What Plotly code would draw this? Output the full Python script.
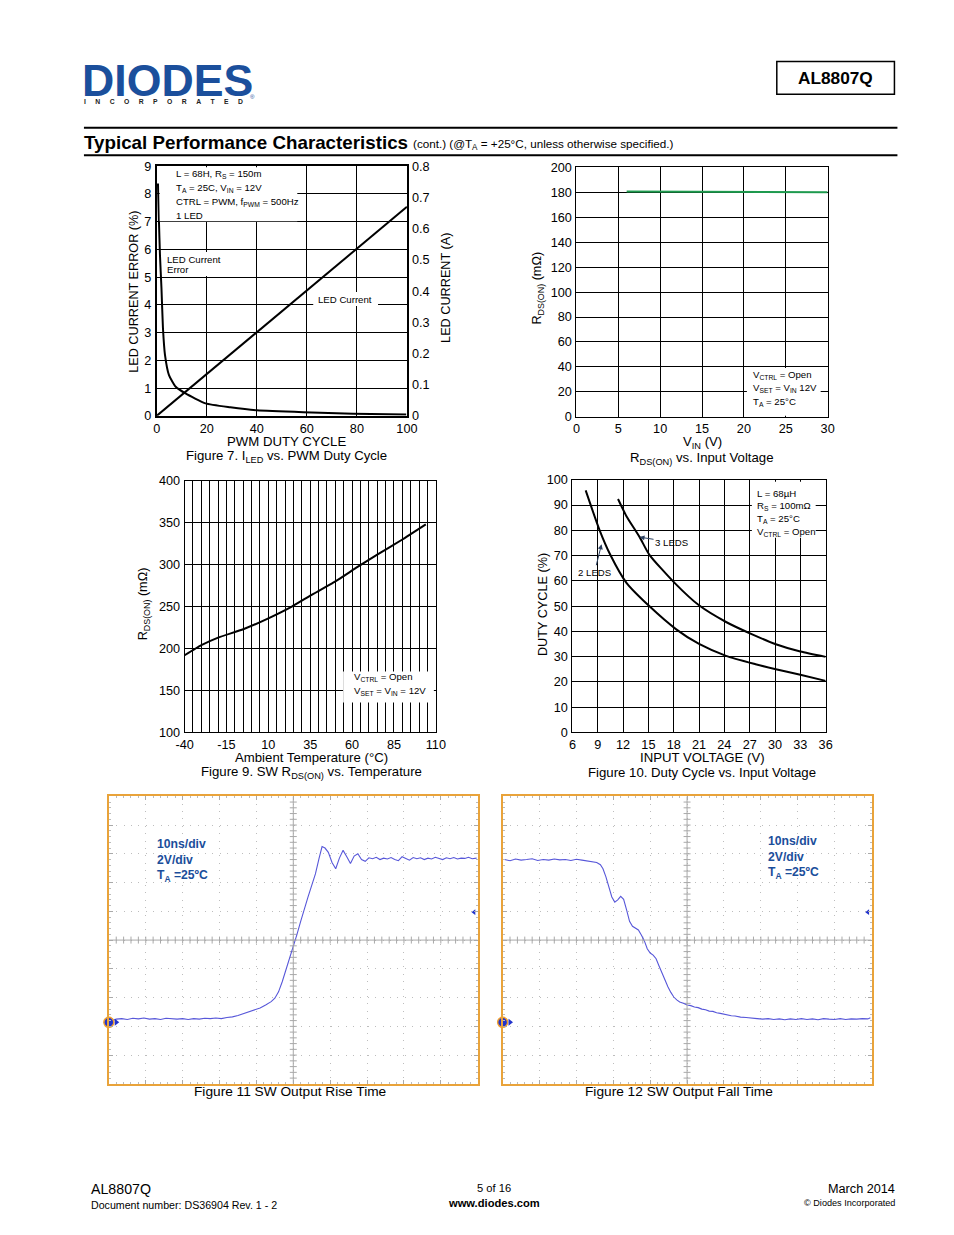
import numpy as np
import plotly.graph_objects as go

PAGE_W, PAGE_H = 954, 1235
MARGIN = 8                     # default body margin of the html page
W, H = PAGE_W - 2 * MARGIN, PAGE_H - 2 * MARGIN - 1
# observed mapping page px -> picture px
SX, CX = 0.9817, 8.0
SY, CY = 0.990, 6.6
FS = 1.015                     # font compensation for the slight downscale
FONT = "Liberation Sans, Arial, sans-serif"
NARROW = "Liberation Sans Narrow, Liberation Sans, Arial, sans-serif"


def X(t):
    return ((t - CX) / SX - MARGIN) / W


def Y(t):
    return 1 - ((t - CY) / SY - MARGIN) / H


# ---------------- data ----------------
# Figure 7: LED current error / LED current vs PWM duty cycle
f7_err_duty = [0.5, 0.9, 1.3, 1.9, 2.5, 3.3, 4.9, 7.6, 11.5, 19.5, 29.4, 40, 58.6, 78.5, 99.7]
f7_err_pct = [8.38, 7.0, 5.8, 4.6, 3.15, 2.2, 1.47, 1.05, 0.81, 0.45, 0.31, 0.2, 0.13, 0.08, 0.05]
f7_cur_duty = [0, 100]
f7_cur_amp = [0.0, 0.67]

# Figure 8: RDS(ON) vs input voltage
f8_vin = [6, 10, 15, 20, 25, 30]
f8_rds = [180.6, 180.5, 180.3, 180.1, 180.0, 179.9]

# Figure 9: SW RDS(ON) vs temperature
f9_temp = [-40, -30, -20, -5, 10, 24, 35, 50, 63, 75, 90, 104]
f9_rds = [192, 204, 213, 223, 236, 250, 263, 280, 297, 312, 330, 348]
f9_xticks = [-40, -15, 10, 35, 60, 85, 110]
f9_xtick_text = ["-40", "-15", "10", "35", "60", "85", "110"]

# Figure 10: duty cycle vs input voltage
f10_vin_2led = [7.57, 9.19, 10.5, 12.4, 15.1, 18.3, 21.0, 24.2, 27.7, 30.1, 33.0, 36.0]
f10_duty_2led = [95.8, 80.3, 70.2, 59.2, 50.0, 40.8, 35.0, 30.3, 27.0, 25.0, 22.8, 20.4]
f10_vin_3led = [11.4, 12.4, 13.95, 15.1, 18.1, 21.0, 24.2, 27.3, 30.1, 33.0, 36.0]
f10_duty_3led = [92.4, 85.6, 77.4, 70.4, 59.2, 50.3, 43.7, 38.8, 34.9, 32.0, 29.9]

# Figure 11: SW output rise (scope divisions: time, volts)
rise_t = [0.05, 0.2, 0.35, 0.5, 0.65, 0.8, 0.95, 1.1, 1.25, 1.4,
          1.55, 1.7, 1.85, 2.0, 2.15, 2.3, 2.45, 2.6, 2.75, 2.9,
          3.05, 3.2, 3.35, 3.5, 3.65, 3.8, 3.95, 4.1, 4.25, 4.4,
          4.5, 4.6, 4.7, 4.8, 4.9, 5.0, 5.1, 5.2, 5.3, 5.4,
          5.5, 5.6, 5.7, 5.78, 5.86, 5.95, 6.05, 6.15, 6.25, 6.35,
          6.45, 6.55, 6.65, 6.75, 6.85, 6.95, 7.05, 7.15, 7.25, 7.35,
          7.45, 7.55, 7.65, 7.75, 7.85, 7.95, 8.05, 8.15, 8.25, 8.35,
          8.45, 8.55, 8.65, 8.75, 8.85, 8.95, 9.05, 9.15, 9.25, 9.35,
          9.45, 9.55, 9.65, 9.75, 9.85, 9.97]
rise_v = [2.18, 2.25, 2.27, 2.24, 2.28, 2.26, 2.29, 2.25, 2.27, 2.24,
          2.28, 2.26, 2.25, 2.27, 2.24, 2.27, 2.25, 2.28, 2.27, 2.29,
          2.27, 2.31, 2.33, 2.38, 2.44, 2.50, 2.56, 2.64, 2.74, 2.86,
          2.98, 3.20, 3.55, 3.95, 4.35, 4.75, 5.20, 5.65, 6.10, 6.50,
          6.90, 7.30, 7.85, 8.25, 8.20, 8.05, 7.70, 7.48, 7.85, 8.12,
          7.90, 7.66, 7.92, 8.00, 7.80, 7.74, 7.86, 7.83, 7.88, 7.80,
          7.85, 7.82, 7.87, 7.80, 7.76, 7.90, 7.84, 7.78, 7.87, 7.83,
          7.86, 7.80, 7.85, 7.82, 7.88, 7.84, 7.80, 7.86, 7.83, 7.87,
          7.82, 7.85, 7.84, 7.88, 7.83, 7.85]

# Figure 12: SW output fall
fall_t = [0.05, 0.2, 0.35, 0.5, 0.65, 0.8, 0.95, 1.1, 1.25, 1.4,
          1.55, 1.7, 1.85, 2.0, 2.15, 2.3, 2.45, 2.55, 2.65, 2.72,
          2.8, 2.88, 2.96, 3.04, 3.12, 3.2, 3.28, 3.36, 3.44, 3.52,
          3.6, 3.68, 3.76, 3.84, 3.92, 4.0, 4.08, 4.16, 4.24, 4.32,
          4.4, 4.48, 4.56, 4.64, 4.72, 4.8, 4.9, 5.0, 5.1, 5.2,
          5.3, 5.4, 5.5, 5.6, 5.7, 5.8, 5.9, 6.0, 6.1, 6.2,
          6.3, 6.45, 6.6, 6.75, 6.9, 7.05, 7.2, 7.35, 7.5, 7.65,
          7.8, 7.95, 8.1, 8.25, 8.4, 8.55, 8.7, 8.85, 9.0, 9.15,
          9.3, 9.45, 9.6, 9.75, 9.9, 9.97]
fall_v = [7.80, 7.76, 7.82, 7.78, 7.80, 7.83, 7.77, 7.80, 7.78, 7.82,
          7.79, 7.80, 7.77, 7.81, 7.78, 7.75, 7.72, 7.70, 7.62, 7.48,
          7.20, 6.80, 6.50, 6.32, 6.40, 6.52, 6.42, 6.05, 5.65, 5.48,
          5.42, 5.35, 5.18, 4.98, 4.70, 4.55, 4.48, 4.35, 4.10, 3.85,
          3.60, 3.38, 3.18, 3.02, 2.92, 2.85, 2.80, 2.74, 2.72, 2.67,
          2.65, 2.60, 2.58, 2.53, 2.52, 2.47, 2.45, 2.42, 2.41, 2.37,
          2.36, 2.32, 2.31, 2.28, 2.27, 2.25, 2.27, 2.24, 2.26, 2.23,
          2.26, 2.24, 2.27, 2.24, 2.26, 2.23, 2.27, 2.25, 2.24, 2.27,
          2.24, 2.26, 2.25, 2.27, 2.26, 2.30]

# scope indicator positions (divisions)
ground_level = 2.14
trigger_level = 5.97
rise_trigger_t = 5.27
fall_trigger_t = 3.4

# ---------------- figure ----------------
fig = go.Figure()

BLK = dict(color="black", width=2)
fig.add_trace(go.Scatter(x=f7_err_duty, y=f7_err_pct, xaxis="x", yaxis="y", mode="lines",
                         line=dict(color="black", width=2, shape="spline", smoothing=0.5)))
fig.add_trace(go.Scatter(x=f7_cur_duty, y=f7_cur_amp, xaxis="x", yaxis="y2", mode="lines", line=BLK))
fig.add_trace(go.Scatter(x=f8_vin, y=f8_rds, xaxis="x2", yaxis="y3", mode="lines",
                         line=dict(color="#1e9a4e", width=2)))
fig.add_trace(go.Scatter(x=f9_temp, y=f9_rds, xaxis="x3", yaxis="y4", mode="lines",
                         line=dict(color="black", width=2, shape="spline", smoothing=0.4)))
fig.add_trace(go.Scatter(x=f10_vin_2led, y=f10_duty_2led, xaxis="x4", yaxis="y5", mode="lines",
                         line=dict(color="black", width=2, shape="spline", smoothing=0.6)))
fig.add_trace(go.Scatter(x=f10_vin_3led, y=f10_duty_3led, xaxis="x4", yaxis="y5", mode="lines",
                         line=dict(color="black", width=2, shape="spline", smoothing=0.6)))

WAVE = "#5757d9"
GRAT = "#a9a9a9"
tick_pos = np.arange(0.2, 10.0, 0.2)
for xa, ya, tt, vv, trig in (("x5", "y6", rise_t, rise_v, rise_trigger_t),
                             ("x6", "y7", fall_t, fall_v, fall_trigger_t)):
    fig.add_trace(go.Scatter(x=tick_pos, y=[5] * len(tick_pos), xaxis=xa, yaxis=ya, mode="markers",
                             marker=dict(symbol="line-ns", size=5, line=dict(width=1, color=GRAT)),
                             hoverinfo="skip"))
    fig.add_trace(go.Scatter(x=[5] * len(tick_pos), y=tick_pos, xaxis=xa, yaxis=ya, mode="markers",
                             marker=dict(symbol="line-ew", size=5, line=dict(width=1, color=GRAT)),
                             hoverinfo="skip"))
    fig.add_trace(go.Scatter(x=tt, y=vv, xaxis=xa, yaxis=ya, mode="lines",
                             line=dict(color=WAVE, width=1.1)))
    fig.add_trace(go.Scatter(x=[0], y=[ground_level], xaxis=xa, yaxis=ya, mode="markers", cliponaxis=False,
                             marker=dict(symbol="circle", size=10, color="#2233cc",
                                         line=dict(color="#f0a030", width=1.5))))
    fig.add_trace(go.Scatter(x=[0.2], y=[ground_level], xaxis=xa, yaxis=ya, mode="markers", cliponaxis=False,
                             marker=dict(symbol="triangle-right", size=6, color="#2233cc")))
    fig.add_trace(go.Scatter(x=[9.9], y=[trigger_level], xaxis=xa, yaxis=ya, mode="markers", cliponaxis=False,
                             marker=dict(symbol="triangle-left", size=5, color="#2233cc")))
    fig.add_trace(go.Scatter(x=[trig], y=[10.05], xaxis=xa, yaxis=ya, mode="markers", cliponaxis=False,
                             marker=dict(symbol="triangle-down", size=7, color="#f08a20")))

TF = dict(family=FONT, size=12.5 * FS, color="black")
chart = dict(showline=True, mirror=True, linecolor="black", linewidth=1.5, showgrid=True,
             gridcolor="black", gridwidth=1.2, zeroline=False, ticks="", ticklen=0, tickfont=TF,
             fixedrange=True)
chart_thin = dict(chart, linewidth=1, gridwidth=1)
XS = dict(ticklabelstandoff=0)
YS = dict(ticklabelstandoff=1)
scope = dict(range=[0, 10], dtick=1, tick0=0, showgrid=True, gridcolor="#bdbdbd", griddash="1px,6.4px",
             gridwidth=1, showticklabels=False, showline=True, linecolor="#e9a33a", linewidth=2,
             mirror="allticks", ticks="inside", ticklen=4, tickcolor=GRAT,
             minor=dict(dtick=0.2, ticks="inside", ticklen=2, tickcolor="#bbbbbb"),
             zeroline=False, fixedrange=True)

fig.update_layout(
    width=W, height=H, margin=dict(l=0, r=0, t=0, b=0), paper_bgcolor="white", plot_bgcolor="white",
    showlegend=False, font=dict(family=FONT, color="black"),
    xaxis=dict(chart, **XS, domain=[X(156), X(407)], range=[0, 100], dtick=20, anchor="y"),
    yaxis=dict(chart, **YS, domain=[Y(416), Y(166)], range=[0, 9], dtick=1, anchor="x"),
    yaxis2=dict(overlaying="y", side="right", anchor="x", range=[0, 0.8], dtick=0.1, showgrid=False,
                showline=False, zeroline=False, ticks="", ticklen=0, tickfont=TF, fixedrange=True,
                ticklabelstandoff=4),
    xaxis2=dict(chart_thin, **XS, domain=[X(577), X(829)], range=[0, 30], dtick=5, anchor="y3"),
    yaxis3=dict(chart_thin, **YS, domain=[Y(417), Y(167)], range=[0, 200], dtick=20, anchor="x2"),
    xaxis3=dict(chart_thin, **XS, domain=[X(184), X(436)], range=[-40, 110], tickmode="array",
                tickvals=f9_xticks, ticktext=f9_xtick_text, anchor="y4",
                minor=dict(tickmode="linear", tick0=-40, dtick=5, showgrid=True, gridcolor="black",
                           gridwidth=1)),
    yaxis4=dict(chart_thin, **YS, domain=[Y(733), Y(481)], range=[100, 400], dtick=50, anchor="x3"),
    xaxis4=dict(chart_thin, **XS, domain=[X(573), X(827)], range=[6, 36], dtick=3, anchor="y5"),
    yaxis5=dict(chart_thin, **YS, domain=[Y(733), Y(480)], range=[0, 100], dtick=10, anchor="x4"),
    xaxis5=dict(scope, domain=[X(108), X(478)], anchor="y6"),
    yaxis6=dict(scope, domain=[Y(1085), Y(797)], anchor="x5"),
    xaxis6=dict(scope, domain=[X(503), X(873)], anchor="y7"),
    yaxis7=dict(scope, domain=[Y(1085), Y(797)], anchor="x6"),
)

shapes = []


def rect(x0, y0, x1, y1, fill="white"):
    shapes.append(dict(type="rect", xref="paper", yref="paper", x0=X(x0), x1=X(x1), y0=Y(y1), y1=Y(y0),
                       fillcolor=fill, line=dict(width=0, color=fill), layer="above"))


def hline(x0, x1, y, w=2, color="black"):
    shapes.append(dict(type="line", xref="paper", yref="paper", x0=X(x0), x1=X(x1), y0=Y(y), y1=Y(y),
                       line=dict(color=color, width=w)))


hline(83, 899, 127.5)
hline(83, 899, 155)
shapes.append(dict(type="rect", xref="paper", yref="paper", x0=X(778), x1=X(896), y0=Y(94), y1=Y(61),
                   line=dict(color="black", width=1.5), fillcolor="rgba(0,0,0,0)"))
rect(159, 167, 297, 221)   # fig 7 conditions
rect(164, 252, 221, 276)   # fig 7 LED current error
rect(313, 292, 378, 306)   # fig 7 LED current
rect(748, 368, 822, 416)   # fig 8 conditions
rect(343, 672, 434, 703)   # fig 9 conditions
rect(753, 482, 817, 538)   # fig 10 conditions
for xa, ya in (("x5", "y6"), ("x6", "y7")):
    shapes.append(dict(type="line", xref=xa, yref=ya, x0=5, x1=5, y0=0, y1=10, line=dict(color=GRAT, width=1)))
    shapes.append(dict(type="line", xref=xa, yref=ya, x0=0, x1=10, y0=5, y1=5, line=dict(color=GRAT, width=1)))

anns = []


def A(x, y, text, size=12.5, xa="center", ya="middle", bold=False, color="black", family=FONT, angle=0):
    if bold:
        text = "<b>" + text + "</b>"
    anns.append(dict(xref="paper", yref="paper", x=X(x), y=Y(y), text=text, showarrow=False,
                     xanchor=xa, yanchor=ya, textangle=angle, borderpad=0,
                     font=dict(family=family, size=size * FS, color=color)))


# header
A(80, 80, "DIODES", size=44, xa="left", bold=True, color="#1b4f9c")
A(82, 101, ("\u00a0" * 5).join("INCORPORATED"), size=6.7, xa="left", bold=True, color="#222222")
A(252, 96, "®", size=6, color="#1b4f9c")
A(837, 78, "AL8807Q", size=17, bold=True)
A(82, 142, "Typical Performance Characteristics", size=18.5, xa="left", bold=True)
A(412, 144, "(cont.) (@T<sub>A</sub> = +25°C, unless otherwise specified.)", size=11.5, xa="left")

# figure 7
A(174, 174, "L = 68H, R<sub>S</sub> = 150m", size=9.5, xa="left")
A(174, 187.5, "T<sub>A</sub> = 25C, V<sub>IN</sub> = 12V", size=9.5, xa="left")
A(174, 201.5, "CTRL = PWM, f<sub>PWM</sub> = 500Hz", size=9.5, xa="left")
A(174, 215, "1 LED", size=9.5, xa="left")
A(165, 259, "LED Current", size=9.5, xa="left")
A(165, 269, "Error", size=9.5, xa="left")
A(317, 299, "LED Current", size=9.5, xa="left")
A(133, 292, "LED CURRENT ERROR (%)", size=12.5, angle=-90)
A(446, 288, "LED CURRENT (A)", size=12.5, angle=-90)
A(286, 442, "PWM DUTY CYCLE", size=13)
A(286, 457, "Figure 7. I<sub>LED</sub> vs. PWM Duty Cycle", size=13)

# figure 8
A(753, 375, "V<sub>CTRL</sub> = Open", size=9.5, xa="left")
A(753, 388.5, "V<sub>SET</sub> = V<sub>IN</sub> 12V", size=9.5, xa="left")
A(753, 402, "T<sub>A</sub> = 25°C", size=9.5, xa="left")
A(539, 288, "R<sub>DS(ON)</sub> (mΩ)", size=12.5, angle=-90)
A(703, 443, "V<sub>IN</sub> (V)", size=13)
A(703, 459, "R<sub>DS(ON)</sub> vs. Input Voltage", size=13)

# figure 9
A(353, 678, "V<sub>CTRL</sub> = Open", size=9.5, xa="left")
A(353, 691.5, "V<sub>SET</sub> = V<sub>IN</sub> = 12V", size=9.5, xa="left")
A(143, 604, "R<sub>DS(ON)</sub> (mΩ)", size=12.5, angle=-90)
A(311, 758, "Ambient Temperature (°C)", size=13)
A(311, 773, "Figure 9. SW R<sub>DS(ON)</sub> vs. Temperature", size=13)

# figure 10
A(757, 494, "L = 68µH", size=9.5, xa="left")
A(757, 506, "R<sub>S</sub> = 100mΩ", size=9.5, xa="left")
A(757, 519, "T<sub>A</sub> = 25°C", size=9.5, xa="left")
A(757, 532, "V<sub>CTRL</sub> = Open", size=9.5, xa="left")
A(543, 605, "DUTY CYCLE (%)", size=12.5, angle=-90)
A(703, 758, "INPUT VOLTAGE (V)", size=13)
A(703, 773, "Figure 10. Duty Cycle vs. Input Voltage", size=13)
anns.append(dict(xref="x4", yref="y5", x=13.95, y=77.3, text="3 LEDS", showarrow=True, arrowhead=2,
                 arrowsize=1, arrowwidth=1, ax=32, ay=5, font=dict(family=FONT, size=9.5 * FS, color="black")))
anns.append(dict(xref="x4", yref="y5", x=9.45, y=74.5, text="2 LEDS", showarrow=True, arrowhead=2,
                 arrowsize=1, arrowwidth=1, ax=-7, ay=28, font=dict(family=FONT, size=9.5 * FS, color="black")))

# scope texts
SC = "#1b4e9b"
for x0, y0 in ((155, 845), (768, 842)):
    A(x0, y0, "10ns/div", size=12, xa="left", bold=True, color=SC, family=NARROW)
    A(x0, y0 + 16, "2V/div", size=12, xa="left", bold=True, color=SC, family=NARROW)
    A(x0, y0 + 32, "T<sub>A</sub> =25ºC", size=12, xa="left", bold=True, color=SC, family=NARROW)
A(290, 1093, "Figure 11 SW Output Rise Time", size=13.5)
A(680, 1093, "Figure 12 SW Output Fall Time", size=13.5)

# footer
A(89, 1190, "AL8807Q", size=14, xa="left")
A(89, 1206, "Document number: DS36904 Rev. 1 - 2", size=10.5, xa="left")
A(494, 1189, "5 of 16", size=11)
A(494, 1204, "www.diodes.com", size=11, bold=True)
A(898, 1190, "March 2014", size=12.5, xa="right")
A(898, 1204, "© Diodes Incorporated", size=9, xa="right")

fig.update_layout(shapes=shapes, annotations=anns)
fig.write_html("out.html")
